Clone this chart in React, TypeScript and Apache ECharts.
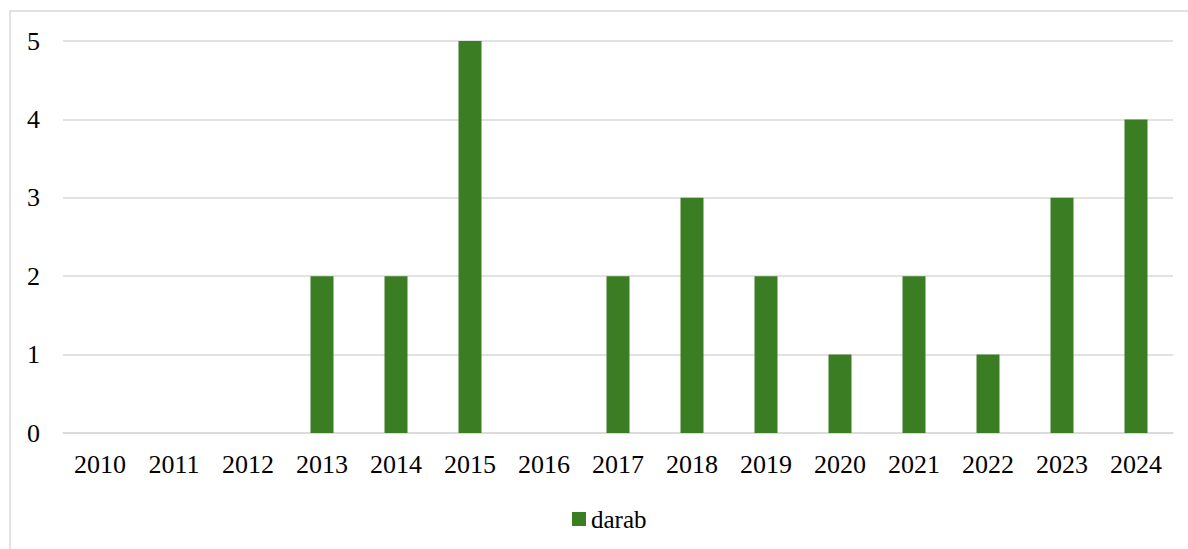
import React, { useEffect, useRef } from "react";
import * as echarts from "echarts";

const years = ["2010", "2011", "2012", "2013", "2014", "2015", "2016", "2017", "2018", "2019", "2020", "2021", "2022", "2023", "2024"];
const darab = [0, 0, 0, 2, 2, 5, 0, 2, 3, 2, 1, 2, 1, 3, 4];
const seriesName = "darab";

export default function App() {
  const ref = useRef<HTMLDivElement>(null);
  useEffect(() => {
    if (!ref.current) return;
    const chart = echarts.init(ref.current, null, { renderer: "svg" });
    const font = "Times New Roman, Liberation Serif, serif";
    chart.setOption({
      animation: false,
      backgroundColor: "#ffffff",
      textStyle: { fontFamily: font },
      graphic: [
        {
          type: "rect",
          shape: { x: 10, y: 11, width: 1200, height: 600 },
          style: { fill: "none", stroke: "#d9d9d9", lineWidth: 1.5 },
          silent: true,
        },
      ],
      grid: { left: 63, right: 15, top: 41, bottom: 116, containLabel: false },
      legend: {
        data: [seriesName],
        left: 567,
        top: 501,
        itemWidth: 14,
        itemHeight: 14,
        itemGap: 6,
        icon: "rect",
        textStyle: { fontFamily: font, fontSize: 25, color: "#000", lineHeight: 26 },
      },
      xAxis: {
        type: "category",
        data: years,
        axisLine: { show: true, lineStyle: { color: "#d9d9d9", width: 1.5 } },
        axisTick: { show: false },
        axisLabel: { fontFamily: font, fontSize: 26, color: "#000", margin: 18, interval: 0 },
      },
      yAxis: {
        type: "value",
        min: 0,
        max: 5,
        interval: 1,
        axisLine: { show: false },
        axisTick: { show: false },
        splitLine: { lineStyle: { color: "#d9d9d9", width: 1.5 } },
        axisLabel: { fontFamily: font, fontSize: 26, color: "#000", margin: 23 },
      },
      series: [
        {
          name: seriesName,
          type: "bar",
          data: darab,
          barWidth: 23,
          itemStyle: { color: "#3B7D23" },
        },
      ],
    });
    return () => chart.dispose();
  }, []);
  return (
    <div
      ref={ref}
      style={{ position: "absolute", left: 0, top: 0, width: 1188, height: 549 }}
    />
  );
}
